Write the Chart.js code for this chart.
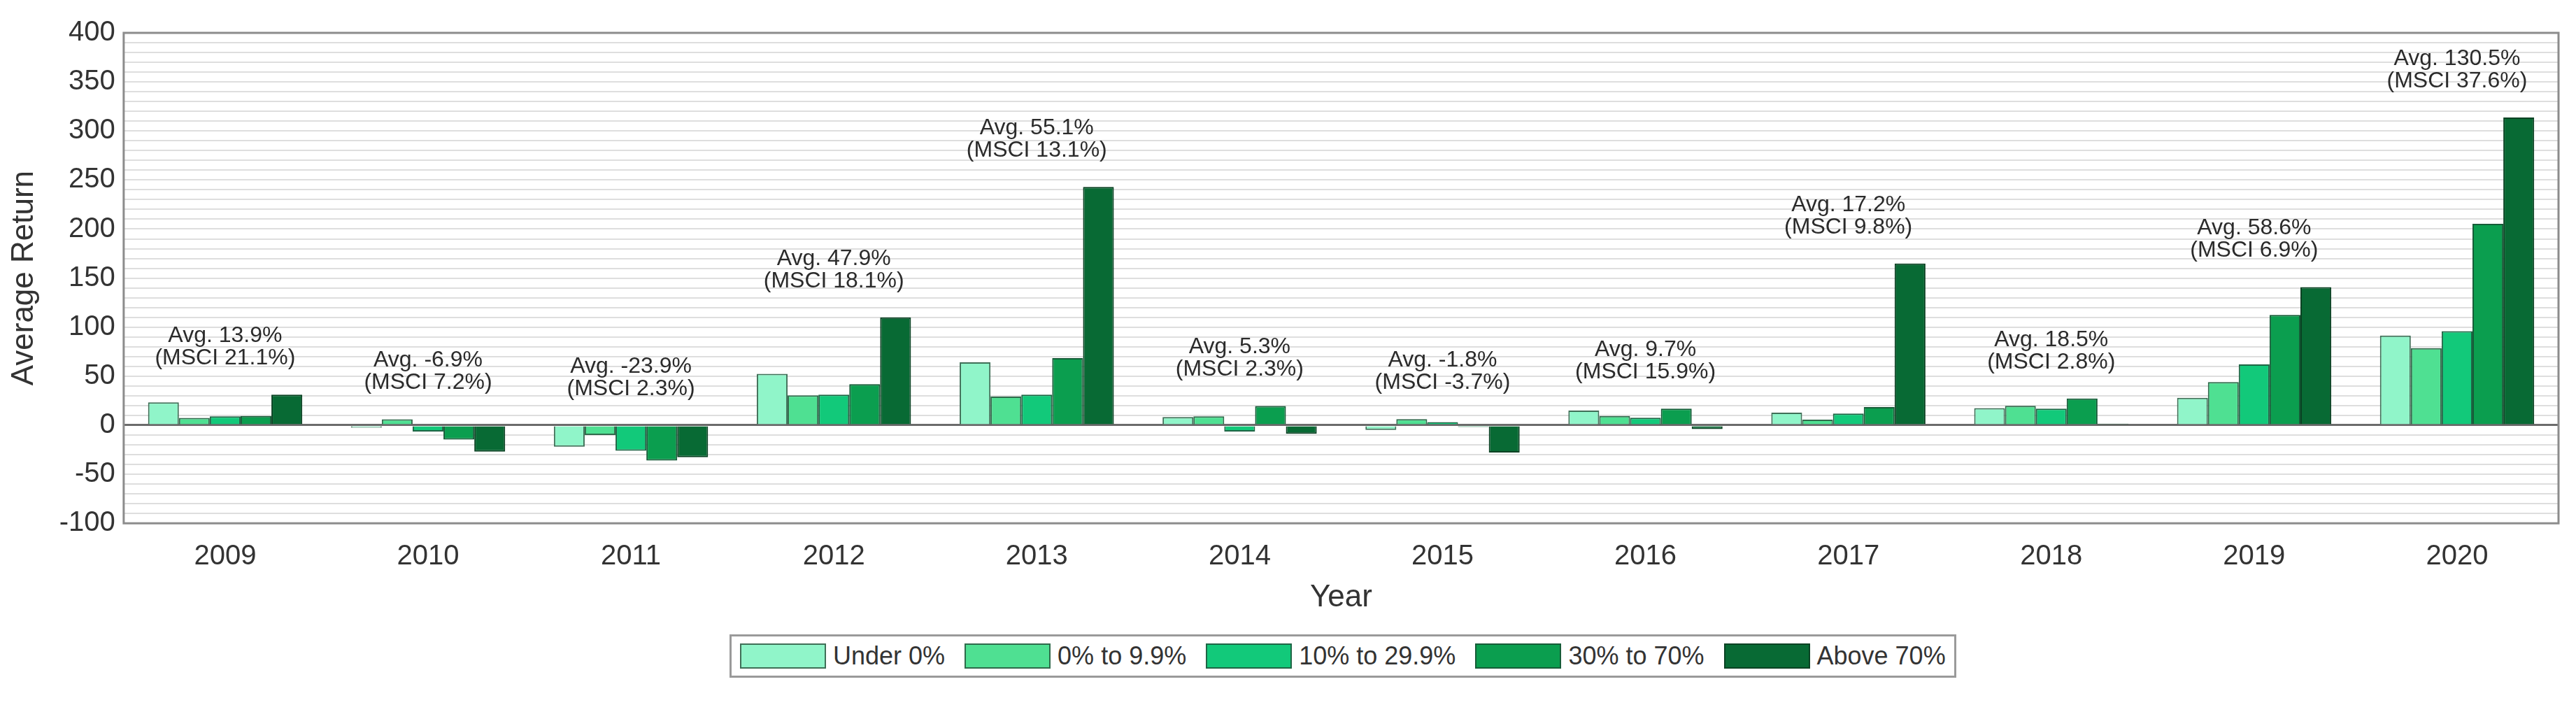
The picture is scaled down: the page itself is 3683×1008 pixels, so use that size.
<!DOCTYPE html>
<html lang="en">
<head>
  <meta charset="UTF-8">
  <title>Average Return by Year</title>
  <script src="https://cdn.jsdelivr.net/npm/chart.js"></script>
  <style>
    body { margin: 0; background: #fff; }
    #wrap { position: relative; width: 3683px; height: 1008px; }
    #legend {
      position: absolute; left: 1043px; top: 907px; height: 56px;
      display: flex; align-items: center; padding: 0 12px;
      border: 3px solid #9a9a9a; background: #fff;
      font-family: "Liberation Sans", Arial, sans-serif; font-size: 36px; color: #333;
    }
    #legend .item { display: flex; align-items: center; margin-right: 28px; }
    #legend .item:last-child { margin-right: 0; }
    #legend .box { width: 119px; height: 32px; border: 2px solid #333; margin-right: 10px; }
  </style>
</head>
<body>
<div id="wrap">
  <canvas id="returnsChart" width="3683" height="1008"></canvas>
  <div id="legend"></div>
</div>

<script>
  const years = ['2009', '2010', '2011', '2012', '2013', '2014', '2015', '2016', '2017', '2018', '2019', '2020'];

  const under0   = [23.3, -2.5, -21.9, 52.3, 64.2, 8.3, -4.8, 15.0, 12.8, 17.4, 28.0, 91.5];
  const r0to10   = [7.4, 6.0, -10.0, 30.4, 29.2, 9.0, 6.2, 9.5, 5.7, 19.7, 44.0, 78.5];
  const r10to30  = [9.0, -6.4, -26.0, 31.1, 31.1, -6.4, 3.1, 7.6, 11.9, 16.9, 62.0, 95.8];
  const r30to70  = [9.5, -14.7, -36.0, 41.8, 68.5, 19.5, -1.9, 16.9, 18.5, 27.3, 112.5, 205.4];
  const above70  = [31.1, -27.0, -32.6, 110.0, 243.0, -8.8, -27.8, -4.0, 164.8, 1.5, 140.8, 313.8];

  const avgReturn  = [13.9, -6.9, -23.9, 47.9, 55.1, 5.3, -1.8, 9.7, 17.2, 18.5, 58.6, 130.5];
  const msciReturn = [21.1, 7.2, 2.3, 18.1, 13.1, 2.3, -3.7, 15.9, 9.8, 2.8, 6.9, 37.6];

  const seriesNames = ['Under 0%', '0% to 9.9%', '10% to 29.9%', '30% to 70%', 'Above 70%'];
  const fills   = ['#90f5c9', '#4fe092', '#12c97a', '#0b9e4f', '#086a34'];
  const borders = ['#3f6f57', '#2f6a4b', '#1f6545', '#165c38', '#0a4223'];

  const FONT = '"Liberation Sans", Arial, sans-serif';

  // text above each year group, placed from the tallest bar
  const avgLabels = {
    id: 'avgLabels',
    afterDatasetsDraw(chart) {
      const ctx = chart.ctx;
      const x = chart.scales.x, y = chart.scales.y;
      const all = [under0, r0to10, r10to30, r30to70, above70];
      ctx.save();
      ctx.font = '32px ' + FONT;
      ctx.fillStyle = '#2b2b2b';
      ctx.textAlign = 'center';
      ctx.textBaseline = 'middle';
      years.forEach((yr, i) => {
        const top = Math.max(0, ...all.map(s => s[i]));
        const px = x.getPixelForValue(i);
        const py = y.getPixelForValue(top);
        ctx.fillText('Avg. ' + avgReturn[i] + '%', px, py - 84);
        ctx.fillText('(MSCI ' + msciReturn[i] + '%)', px, py - 52);
      });
      ctx.restore();
    }
  };

  const plotFrame = {
    id: 'plotFrame',
    afterDatasetsDraw(chart) {
      const {left, top, width, height} = chart.chartArea;
      const ctx = chart.ctx;
      ctx.save();
      ctx.strokeStyle = '#8c8c8c';
      ctx.lineWidth = 3;
      ctx.strokeRect(left, top, width, height);
      ctx.restore();
    }
  };

  const ctx = document.getElementById('returnsChart').getContext('2d');
  const chart = new Chart(ctx, {
    type: 'bar',
    data: {
      labels: years,
      datasets: [under0, r0to10, r10to30, r30to70, above70].map((d, i) => ({
        label: seriesNames[i],
        data: d,
        backgroundColor: fills[i],
        borderColor: borders[i],
        borderWidth: 2,
        categoryPercentage: 0.76,
        barPercentage: 1.0
      }))
    },
    options: {
      responsive: false,
      devicePixelRatio: 1,
      animation: false,
      layout: { padding: { left: 8, right: 25, top: 47, bottom: 127 } },
      plugins: {
        legend: { display: false },
        tooltip: { enabled: false }
      },
      scales: {
        x: {
          grid: { display: false, drawTicks: false },
          border: { display: false },
          ticks: { font: { family: FONT, size: 40 }, color: '#333', padding: 24 },
          title: {
            display: true, text: 'Year', color: '#333',
            font: { family: FONT, size: 44 }, padding: { top: -16, bottom: 0 }
          }
        },
        y: {
          min: -100,
          max: 400,
          border: { display: false },
          grid: {
            drawTicks: false,
            color: c => c.tick.value === 0 ? '#6b6b6b' : '#dedede',
            lineWidth: c => c.tick.value === 0 ? 3 : 2
          },
          ticks: {
            stepSize: 10,
            autoSkip: false,
            padding: 12,
            color: '#333',
            font: { family: FONT, size: 40 },
            callback: v => v % 50 === 0 ? v : ''
          },
          title: {
            display: true, text: 'Average Return', color: '#333',
            font: { family: FONT, size: 44 }, padding: { top: 0, bottom: 12 }
          }
        }
      }
    },
    plugins: [avgLabels, plotFrame]
  });

  const legendEl = document.getElementById('legend');
  seriesNames.forEach((name, i) => {
    const item = document.createElement('div');
    item.className = 'item';
    const box = document.createElement('span');
    box.className = 'box';
    box.style.background = fills[i];
    box.style.borderColor = borders[i];
    const txt = document.createElement('span');
    txt.textContent = name;
    item.appendChild(box);
    item.appendChild(txt);
    legendEl.appendChild(item);
  });
</script>
</body>
</html>
